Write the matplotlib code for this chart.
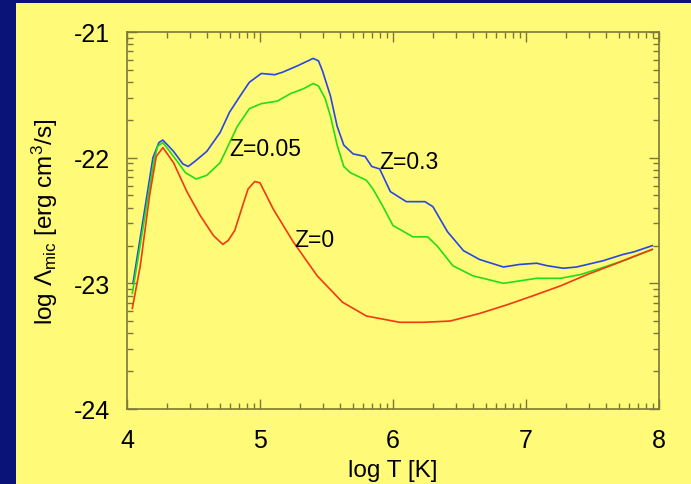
import matplotlib
matplotlib.use("Agg")
import matplotlib.pyplot as plt
import numpy as np
from matplotlib.patches import Rectangle
from matplotlib.ticker import FixedLocator

plt.rcParams['font.family'] = ['Liberation Sans', 'DejaVu Sans']
plt.rcParams['mathtext.fontset'] = 'custom'
plt.rcParams['mathtext.rm'] = 'Liberation Sans'
plt.rcParams['mathtext.it'] = 'Liberation Sans:italic'

# log T and log Lambda
t_z03 = [4.045, 4.195, 4.24, 4.27, 4.35, 4.42, 4.46, 4.51, 4.60, 4.70, 4.77, 4.85, 4.92, 5.01,
         5.11, 5.17, 5.28, 5.40, 5.44, 5.47, 5.53, 5.58, 5.63, 5.70, 5.79, 5.84, 5.90, 5.98,
         6.10, 6.24, 6.30, 6.41, 6.53, 6.65, 6.83, 6.95, 7.08, 7.16, 7.28, 7.38, 7.58, 7.73,
         7.81, 7.95]
l_z03 = [-23.0, -22.0, -21.88, -21.86, -21.95, -22.05, -22.07, -22.03, -21.95, -21.80, -21.64,
         -21.51, -21.40, -21.33, -21.34, -21.32, -21.27, -21.21, -21.23, -21.31, -21.51, -21.75,
         -21.90, -21.97, -21.99, -22.07, -22.09, -22.27, -22.35, -22.35, -22.39, -22.59, -22.74,
         -22.81, -22.87, -22.85, -22.84, -22.86, -22.88, -22.87, -22.82, -22.77, -22.75, -22.70]

t_z005 = [4.04, 4.20, 4.23, 4.27, 4.35, 4.44, 4.52, 4.60, 4.70, 4.83, 4.92, 5.01, 5.13, 5.23,
          5.33, 5.40, 5.44, 5.49, 5.53, 5.58, 5.63, 5.68, 5.80, 5.85, 5.92, 6.00, 6.15, 6.26,
          6.33, 6.45, 6.60, 6.83, 7.08, 7.26, 7.41, 7.56, 7.76, 7.95]
l_z005 = [-23.08, -22.04, -21.91, -21.88, -21.99, -22.12, -22.17, -22.14, -22.04, -21.75,
          -21.61, -21.57, -21.55, -21.49, -21.45, -21.41, -21.43, -21.53, -21.67, -21.90,
          -22.07, -22.12, -22.18, -22.25, -22.38, -22.54, -22.63, -22.63, -22.70, -22.86,
          -22.94, -23.00, -22.96, -22.96, -22.93, -22.88, -22.81, -22.73]

t_z0 = [4.04, 4.10, 4.17, 4.22, 4.27, 4.35, 4.45, 4.55, 4.65, 4.72, 4.76, 4.81, 4.87, 4.91,
        4.96, 5.00, 5.10, 5.25, 5.43, 5.62, 5.80, 6.05, 6.23, 6.43, 6.65, 6.86, 7.05, 7.26,
        7.46, 7.66, 7.80, 7.95]
l_z0 = [-23.20, -22.86, -22.30, -21.99, -21.92, -22.04, -22.27, -22.46, -22.62, -22.69, -22.66,
        -22.58, -22.38, -22.25, -22.19, -22.20, -22.41, -22.67, -22.94, -23.15, -23.26, -23.31,
        -23.31, -23.30, -23.24, -23.17, -23.10, -23.02, -22.93, -22.85, -22.79, -22.73]

labels = ['Z=0.3', 'Z=0.05', 'Z=0']
label_pos = [(5.90, -22.03), (4.77, -21.93), (5.26, -22.65)]

navy = '#0a1478'
yellow = '#fffa78'
axis_col = '#7d7838'

fig = plt.figure(figsize=(6.91, 4.85), dpi=100, facecolor=navy)
fig.patches.append(Rectangle((16 / 691, 0), 1, 1 - 4 / 485, transform=fig.transFigure,
                             facecolor=yellow, edgecolor='none', zorder=-10))

ax = fig.add_axes([127 / 691, 1 - 410 / 485, 532 / 691, 377 / 485])
ax.set_facecolor(yellow)

ax.plot(t_z03, l_z03, color='#2846e6', lw=1.2)
ax.plot(t_z005, l_z005, color='#22dd18', lw=1.2)
ax.plot(t_z0, l_z0, color='#f03a10', lw=1.2)

for txt, (x, y) in zip(labels, label_pos):
    ax.text(x, y, txt, fontsize=16.5, ha='left', va='center')

ax.set_xlim(4, 8)
ax.set_ylim(-24, -21)
ax.set_xticks([4, 5, 6, 7, 8])
ax.set_yticks([-24, -23, -22, -21])
ax.set_yticklabels(['-24', '-23', '-22', '-21'])

# log-style minor ticks within each decade
k = np.log10(np.arange(2, 10))
ax.xaxis.set_minor_locator(FixedLocator(np.concatenate([d + k for d in range(4, 8)])))
ax.yaxis.set_minor_locator(FixedLocator(np.concatenate([d + k for d in range(-24, -21)])))

for s in ax.spines.values():
    s.set_color(axis_col)
    s.set_linewidth(1.2)
ax.tick_params(which='both', direction='in', top=True, right=True, color=axis_col, width=1)
ax.tick_params(which='major', length=7, labelsize=18)
ax.tick_params(which='minor', length=4)
ax.tick_params(axis='x', which='major', pad=14)
ax.tick_params(axis='y', which='major', pad=12)

ax.set_xlabel('log T [K]', fontsize=17.5, labelpad=5)
ax.set_ylabel(r'log $\Lambda_{\rm mic}$ [erg cm$^3$/s]', fontsize=17.5, labelpad=10)

fig.savefig('out.png', dpi=100, facecolor=navy)
